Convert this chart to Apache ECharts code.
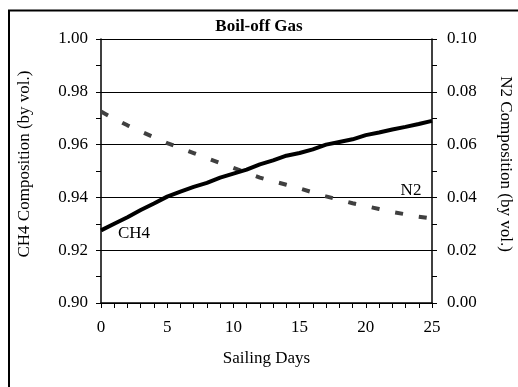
<!DOCTYPE html>
<html>
<head>
<meta charset="utf-8">
<script src="https://cdn.jsdelivr.net/npm/echarts@6/dist/echarts.min.js"></script>
<style>
html,body{margin:0;padding:0;background:#fff;}
#c{width:518px;height:387px;}
</style>
</head>
<body>
<div id="c"></div>
<script>
var days = [0,1,2,3,4,5,6,7,8,9,10,11,12,13,14,15,16,17,18,19,20,21,22,23,24,25];
var ch4 = [0.9275,0.9300,0.9325,0.9352,0.9377,0.9403,0.9422,0.9440,0.9455,0.9475,0.9490,0.9505,0.9525,0.9540,0.9558,0.9568,0.9582,0.9600,0.9610,0.9620,0.9636,0.9646,0.9657,0.9667,0.9678,0.9690];
var n2 = [0.0725,0.0698,0.0673,0.0650,0.0628,0.0606,0.0587,0.0568,0.0549,0.0530,0.0512,0.0493,0.0475,0.0461,0.0448,0.0434,0.0419,0.0404,0.0391,0.0378,0.0367,0.0356,0.0345,0.0336,0.0327,0.0320];
var xTicks = [0,5,10,15,20,25];
var leftTicks = ['0.90','0.92','0.94','0.96','0.98','1.00'];
var rightTicks = ['0.00','0.02','0.04','0.06','0.08','0.10'];
var titleText = 'Boil-off Gas';
var xName = 'Sailing Days';
var leftName = 'CH4 Composition (by vol.)';
var rightName = 'N2 Composition (by vol.)';

var FONT = '"Liberation Serif","Times New Roman",serif';
var chart = echarts.init(document.getElementById('c'), null, {renderer:'canvas'});
var axisCommon = {
  axisLine:{show:true,lineStyle:{color:'#000',width:1.5}},
  axisTick:{show:true,inside:false,length:5,lineStyle:{color:'#000',width:1}},
  minorTick:{show:true,length:5,lineStyle:{color:'#000',width:1}},
  axisLabel:{color:'#000',fontFamily:FONT,fontSize:17}
};
chart.setOption({
  animation:false,
  backgroundColor:'#fff',
  title:{text:titleText,left:'center',top:13,textStyle:{fontFamily:FONT,fontSize:17,fontWeight:'bold',color:'#000'}},
  grid:{left:101,right:86,top:39,bottom:84,containLabel:false},
  xAxis:{
    type:'value',min:0,max:25,interval:5,
    axisLine:axisCommon.axisLine,
    axisTick:axisCommon.axisTick,
    minorTick:{show:true,splitNumber:5,length:5,lineStyle:{color:'#000',width:1}},
    splitLine:{show:false},
    axisLabel:{color:'#000',fontFamily:FONT,fontSize:17,margin:16,
      formatter:function(v){return xTicks.indexOf(v)>=0?String(v):'';}},
    name:xName,nameLocation:'middle',nameGap:47,
    nameTextStyle:{color:'#000',fontFamily:FONT,fontSize:17}
  },
  yAxis:[{
    type:'value',position:'left',min:0.9,max:1.0,interval:0.02,
    axisLine:axisCommon.axisLine,
    axisTick:axisCommon.axisTick,
    minorTick:{show:true,splitNumber:2,length:5,lineStyle:{color:'#000',width:1}},
    splitLine:{show:true,lineStyle:{color:'#000',width:1}},
    axisLabel:{color:'#000',fontFamily:FONT,fontSize:17,margin:13,
      formatter:function(v){var i=Math.round((v-0.9)/0.02);return leftTicks[i]||'';}}
  },{
    type:'value',position:'right',min:0,max:0.1,interval:0.02,
    axisLine:axisCommon.axisLine,
    axisTick:axisCommon.axisTick,
    minorTick:{show:true,splitNumber:2,length:5,lineStyle:{color:'#000',width:1}},
    splitLine:{show:false},
    axisLabel:{color:'#000',fontFamily:FONT,fontSize:17,margin:15,
      formatter:function(v){var i=Math.round(v/0.02);return rightTicks[i]||'';}}
  }],
  series:[{
    name:'CH4',type:'line',yAxisIndex:0,showSymbol:false,symbol:'none',
    data:days.map(function(d,i){return [d,ch4[i]];}),
    lineStyle:{color:'#000',width:4,cap:'butt'},
    label:{show:false},z:3
  },{
    name:'N2',type:'line',yAxisIndex:1,showSymbol:false,symbol:'none',
    data:days.map(function(d,i){return [d,n2[i]];}),
    lineStyle:{color:'#404040',width:4,type:[8,16],cap:'butt'},
    z:2
  }],
  graphic:[
    {type:'rect',shape:{x:9,y:10.5,width:600,height:500},style:{fill:'none',stroke:'#000',lineWidth:2},silent:true},
    {type:'text',x:25,y:164,rotation:Math.PI/2,style:{text:leftName,font:'17px '+FONT,fill:'#000',align:'center',verticalAlign:'middle'}},
    {type:'text',x:505,y:164,rotation:-Math.PI/2,style:{text:rightName,font:'17px '+FONT,fill:'#000',align:'center',verticalAlign:'middle'}},
    {type:'text',x:134,y:234,style:{text:'CH4',font:'17px '+FONT,fill:'#000',align:'center',verticalAlign:'middle'}},
    {type:'text',x:411,y:191,style:{text:'N2',font:'17px '+FONT,fill:'#000',align:'center',verticalAlign:'middle'}}
  ]
});
</script>
</body>
</html>
